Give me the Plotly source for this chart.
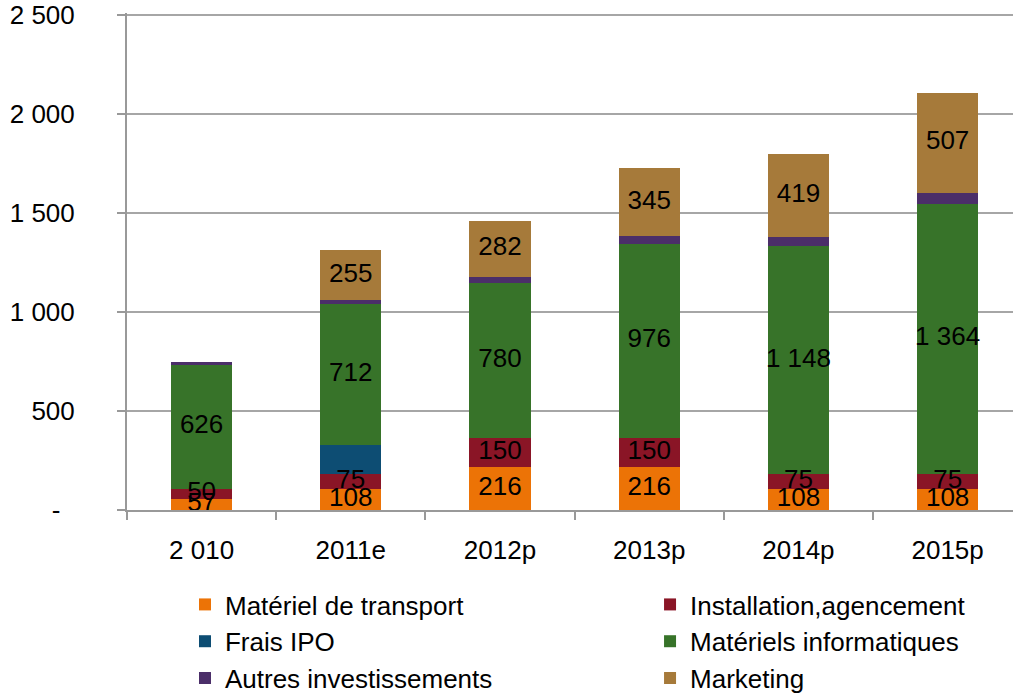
import plotly.graph_objects as go

categories = ["2 010", "2011e", "2012p", "2013p", "2014p", "2015p"]

transport = [57, 108, 216, 216, 108, 108]
installation = [50, 75, 150, 150, 75, 75]
frais_ipo = [0, 144, 0, 0, 0, 0]
informatique = [626, 712, 780, 976, 1148, 1364]
autres = [13, 20, 33, 41, 49, 53]
marketing = [0, 255, 282, 345, 419, 507]

# name, values, colour, show labels, legend column
series = [
    ("Matériel de transport", transport, "#EC7306", True, "legend"),
    ("Installation,agencement", installation, "#8A1526", True, "legend2"),
    ("Frais IPO", frais_ipo, "#0D4D73", False, "legend"),
    ("Matériels informatiques", informatique, "#377329", True, "legend2"),
    ("Autres investissements", autres, "#4B2E69", False, "legend"),
    ("Marketing", marketing, "#A67A3A", True, "legend2"),
]

y_tickvals = [0, 500, 1000, 1500, 2000, 2500]
y_ticktext = ["-\u00a0\u00a0", "500", "1 000", "1 500", "2 000", "2 500"]


def fmt(v):
    return f"{v:,}".replace(",", " ")


FONT = "Arial, Liberation Sans, sans-serif"

fig = go.Figure()
base = [0] * len(categories)
label_x, label_y, label_t = [], [], []
for name, vals, color, show_text, leg in series:
    fig.add_trace(go.Bar(
        name=name,
        x=categories,
        y=vals,
        marker=dict(color=color, line=dict(width=0)),
        width=0.41,
        legend=leg,
        hoverinfo="skip",
    ))
    for i, v in enumerate(vals):
        if show_text and v > 0:
            label_x.append(categories[i])
            label_y.append(base[i] + v / 2)
            label_t.append(fmt(v))
        base[i] += v

fig.add_trace(go.Scatter(
    x=label_x,
    y=label_y,
    text=label_t,
    mode="text",
    textposition="middle center",
    textfont=dict(family=FONT, size=26, color="black"),
    showlegend=False,
    cliponaxis=False,
    hoverinfo="skip",
))

legend_common = dict(
    orientation="v",
    traceorder="normal",
    xref="container",
    yref="container",
    xanchor="left",
    yanchor="top",
    font=dict(family=FONT, size=26, color="black"),
    itemclick=False,
    bgcolor="rgba(0,0,0,0)",
)

fig.update_layout(
    width=1013,
    height=695,
    barmode="stack",
    plot_bgcolor="white",
    paper_bgcolor="white",
    margin=dict(l=127, r=0, t=13, b=185, autoexpand=False),
    font=dict(family=FONT, size=26, color="black"),
    showlegend=True,
    legend=dict(x=0.1826, y=0.164, **legend_common),
    legend2=dict(x=0.6417, y=0.164, **legend_common),
    xaxis=dict(
        type="category",
        range=[-0.5, 5.438],
        showline=True,
        linecolor="#999999",
        linewidth=2,
        ticks="outside",
        tickson="boundaries",
        ticklen=8,
        tickwidth=2,
        tickcolor="#999999",
        ticklabelstandoff=16,
        tickfont=dict(family=FONT, size=26, color="black"),
        showgrid=False,
        zeroline=False,
    ),
    yaxis=dict(
        range=[0, 2510],
        tickvals=y_tickvals,
        ticktext=y_ticktext,
        showline=True,
        linecolor="#999999",
        linewidth=2,
        ticks="outside",
        ticklen=8,
        tickwidth=2,
        tickcolor="#999999",
        ticklabelstandoff=37,
        ticklabeloverflow="allow",
        tickfont=dict(family=FONT, size=26, color="black"),
        showgrid=True,
        gridcolor="#A6A6A6",
        gridwidth=2,
        zeroline=False,
    ),
)

fig.write_html(
    "out.html",
    config={"displayModeBar": False},
    post_script="document.body.style.margin='0';document.body.style.overflow='hidden';",
)
